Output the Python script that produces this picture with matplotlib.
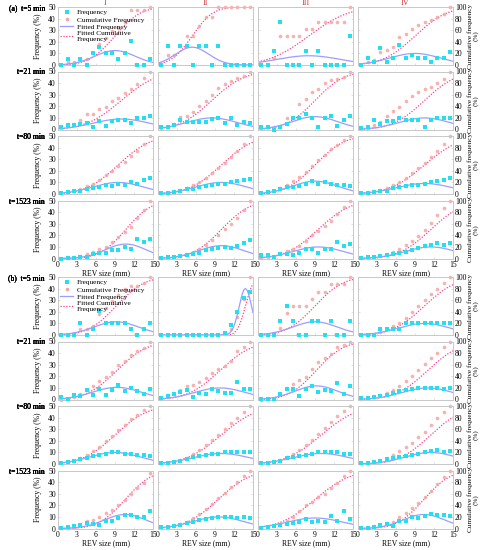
import math
import numpy as np
import matplotlib
matplotlib.use('Agg')
import matplotlib.pyplot as plt
from matplotlib.lines import Line2D

plt.rcParams['font.family'] = ['Liberation Serif', 'DejaVu Serif']

# REV size bins (mm)
rev_size = [0.5, 1.5, 2.5, 3.5, 4.5, 5.5, 6.5, 7.5, 8.5, 9.5, 10.5, 11.5, 12.5, 13.5, 14.5]
times = ['t=5 min', 't=21 min', 't=80 min', 't=1523 min']
columns = ['I', 'II', 'III', 'IV']

# frequency (%) per row (time) and column (I..IV), group (a)
freq_a = [
    [[0, 5.3, 0, 5.3, 0, 10.5, 15.8, 10.5, 10.5, 5.3, 10.5, 21.1, 0, 0, 5.3],
     [0, 16.7, 0, 16.7, 16.7, 0, 16.7, 16.7, 0, 16.7, 0, 0, 0, 0, 0],
     [0, 0, 12.5, 37.5, 0, 0, 0, 12.5, 0, 12.5, 0, 0, 0, 0, 25],
     [0, 5.7, 2.9, 14.3, 2.9, 5.7, 17.1, 5.7, 8.6, 5.7, 5.7, 2.9, 5.7, 5.7, 11.4]],
    [[2, 3.8, 3.8, 4.5, 5.5, 2.5, 7.3, 2.9, 7.3, 7.8, 8.1, 5.8, 9.6, 9.6, 11.6],
     [2, 2, 4, 8.1, 6.7, 6.7, 6.7, 6.7, 8.7, 9.6, 5.8, 9.6, 3.8, 6.4, 5.8],
     [2, 2, 0, 2, 4.4, 10, 9.6, 13, 10, 2, 10, 12, 3, 8, 12],
     [1.5, 2, 8, 4.4, 7.3, 7.3, 9.6, 8.1, 8.1, 7.8, 2, 8.1, 9.6, 9.6, 10]],
    [[1, 2, 3, 3, 4, 5, 6, 8, 7, 9, 8, 10, 9, 12, 14],
     [1, 1, 2, 3, 4, 4, 6, 7, 8, 9, 9, 10, 11, 12, 13],
     [1, 2, 3, 4, 6, 6, 7, 9, 11, 9, 10, 9, 8, 8, 7],
     [1, 1, 2, 3, 3, 5, 6, 7, 8, 8, 9, 10, 11, 12, 14]],
    [[0, 0.5, 0.6, 1, 1.5, 3.8, 4.5, 4.9, 7.2, 7.2, 9.5, 7.8, 16.5, 13.9, 16.5],
     [0.5, 1, 1, 2, 3, 4, 5, 7, 8, 9, 10, 9, 11, 13, 16],
     [2.6, 2.6, 1.7, 4, 4, 2.6, 5, 8.4, 8.4, 4.6, 8.4, 8.4, 14, 11, 12.7],
     [0.5, 1, 1, 2, 3, 4, 5, 6, 7, 9, 11, 12, 13, 12, 13]],
]
cum_a = [
    [[0, 5.3, 5.3, 10.5, 10.5, 21.1, 36.8, 47.4, 57.9, 63.2, 73.7, 94.7, 94.7, 94.7, 100],
     [0, 16.7, 16.7, 33.3, 50, 50, 66.7, 83.3, 83.3, 100, 100, 100, 100, 100, 100],
     [0, 0, 12.5, 50, 50, 50, 50, 62.5, 62.5, 75, 75, 75, 75, 75, 100],
     [0, 5.7, 8.6, 22.9, 25.7, 31.4, 48.6, 54.3, 62.9, 68.6, 74.3, 77.1, 82.9, 88.6, 100]],
    [[2, 8.7, 10, 16, 26, 27, 35, 39, 49, 55, 63, 70, 78, 88, 100],
     [1.5, 4, 9, 21, 24, 30, 41, 49, 59, 71, 78, 84, 89, 92, 99],
     [2, 4, 4, 6, 19, 20, 44, 52, 64, 70, 80, 85, 87, 90, 100],
     [1, 3, 7.6, 13, 23, 32, 39, 49, 58, 64, 70, 74, 81, 87, 99]],
    [[1, 3, 6, 9, 13, 18, 24, 32, 39, 48, 56, 66, 75, 87, 100],
     [1, 2, 4, 7, 11, 15, 21, 28, 36, 45, 54, 64, 75, 87, 100],
     [1, 3, 6, 10, 16, 22, 29, 38, 49, 58, 68, 77, 85, 93, 100],
     [1, 2, 4, 7, 10, 15, 21, 28, 36, 44, 53, 63, 74, 86, 100]],
    [[0.5, 1, 2, 4.6, 8, 12, 16, 20, 28, 37, 46, 54, 69, 84, 100],
     [0.5, 1.5, 2.5, 4.5, 7.5, 11.5, 16.5, 23.5, 31.5, 40.5, 50.5, 59.5, 70.5, 83.5, 100],
     [1.5, 3, 5, 8, 13, 16, 22, 31, 40, 48, 56, 64, 76, 88, 100],
     [0.5, 1.5, 2.5, 4.5, 7.5, 11.5, 16.5, 22.5, 29.5, 38.5, 49.5, 61.5, 74.5, 86.5, 100]],
]
# fitted normal parameters (mean, sd) of REV size, group (a)
mu_a = [[9.0, 5.4, 8.0, 9.0], [10.0, 8.5, 9.0, 10.5], [9.5, 10.0, 9.0, 10.5], [10.7, 10.0, 9.5, 11.5]]
sd_a = [[3.2, 2.6, 5.0, 4.0], [4.4, 4.0, 3.6, 4.0], [4.0, 4.0, 3.6, 4.4], [3.2, 3.6, 4.0, 4.0]]

# group (b)
freq_b = [
    [[0, 0, 0, 10.5, 0, 5.3, 21.1, 10.5, 10.5, 10.5, 10.5, 5.3, 0, 5.3, 10.5],
     [0, 0, 0, 0, 0, 0, 0, 0, 0, 0, 2, 8.5, 20, 32, 37.5],
     [0, 0, 0, 12.5, 25, 12.5, 0, 0, 12.5, 12.5, 0, 12.5, 0, 0, 12.5],
     [0, 0, 0, 5, 5, 5, 5, 10, 10, 10, 10, 10, 10, 10, 10]],
    [[2, 0.6, 3.8, 2.9, 7.8, 3.8, 8.7, 3.8, 7.8, 12.2, 7.3, 10.2, 7.3, 4.9, 8.7],
     [1, 2.9, 5, 6.7, 7.8, 2, 6, 5, 8.7, 7.6, 5.5, 6, 15, 9.3, 9.3],
     [0.6, 0.6, 0.6, 4.9, 8.7, 8.7, 2.9, 8.7, 11.6, 6.7, 8, 7, 14, 5, 12],
     [1, 1, 2, 3, 4, 6, 7, 8, 9, 10, 10, 10, 10, 9, 10]],
    [[1, 2, 3, 4, 5, 7, 8, 9, 10, 10, 9, 9, 8, 8, 7],
     [1, 1, 2, 3, 4, 6, 7, 8, 9, 9, 10, 10, 10, 10, 10],
     [1, 1, 2, 3, 5, 6, 7, 8, 9, 10, 10, 10, 10, 9, 9],
     [1, 1, 2, 3, 4, 5, 6, 7, 8, 9, 10, 11, 12, 10, 11]],
    [[0.6, 1, 2, 2.9, 4.7, 4.3, 3.4, 6.6, 6.6, 9.2, 11.5, 11.5, 10, 10, 15],
     [1, 1, 2, 3, 5, 6, 7, 8, 9, 10, 10, 10, 9, 10, 9],
     [0.5, 1, 2, 3, 4, 5, 6, 7.8, 5.7, 6.6, 5.2, 10.9, 6.6, 15, 8.6],
     [0.6, 0.6, 1, 2.9, 3.7, 2, 6.6, 6.6, 9.5, 9.2, 11, 12.9, 12, 11.5, 10.9]],
]
cum_b = [
    [[0, 0, 0, 10.5, 10.5, 15.8, 36.8, 47.4, 57.9, 68.4, 78.9, 84.2, 84.2, 89.5, 100],
     [0, 0, 0, 0, 0, 0, 0, 0, 0, 0, 2, 10.5, 30.5, 62.5, 100],
     [0, 0, 0, 12.5, 37.5, 50, 50, 50, 62.5, 75, 75, 87.5, 87.5, 87.5, 100],
     [0, 0, 0, 5, 10, 15, 20, 30, 40, 50, 60, 70, 80, 90, 100]],
    [[0, 1, 4, 9, 17, 23, 32, 38, 47, 59, 66, 76, 83, 88, 100],
     [1, 4, 10, 16, 23, 25, 31, 37, 46, 53, 58, 66, 84, 91, 100],
     [0, 0.6, 1.5, 10, 19, 26, 33, 39, 52, 64, 72, 79, 90, 94, 100],
     [1, 2, 4, 7, 11, 17, 24, 32, 41, 51, 61, 71, 81, 90, 100]],
    [[1, 3, 6, 10, 15, 22, 30, 39, 49, 59, 68, 77, 85, 93, 100],
     [1, 2, 4, 7, 11, 17, 24, 32, 41, 50, 60, 70, 80, 90, 100],
     [1, 2, 4, 7, 12, 18, 25, 33, 42, 52, 62, 72, 82, 91, 100],
     [1, 2, 4, 7, 11, 16, 22, 29, 37, 46, 56, 67, 79, 89, 100]],
    [[1, 1.5, 2.5, 6, 13, 15.5, 19, 26, 32, 40, 49, 59, 69, 78, 96],
     [1, 2, 4, 7, 12, 18, 25, 33, 42, 52, 62, 72, 81, 91, 100],
     [1, 2, 4, 8, 13, 20, 30, 40, 46, 54, 60, 70, 78, 90, 100],
     [0.6, 1.2, 2.5, 5, 9, 12, 19, 27, 35, 44, 55, 65, 76, 88, 100]],
]
mu_b = [[9.2, 13.8, 9.0, 10.5], [9.3, 9.8, 9.2, 11.0], [9.0, 10.0, 10.0, 11.5], [10.6, 9.5, 9.0, 10.4]]
sd_b = [[3.5, 1.0, 3.5, 4.0], [3.8, 4.0, 3.4, 4.0], [4.0, 4.4, 4.4, 4.0], [3.3, 4.0, 4.4, 3.3]]

C_FREQ = '#22e0f0'
C_CUM = '#f7a3a3'
C_FIT = '#9d9dff'
C_FITCUM = '#ff3d8e'
C_FRAME = '#c8c8c8'

FW, FH = 482, 550
col_left = [58, 158, 258, 358]
panel_w, panel_h = 95, 58
row_top = {'a': [7, 71.5, 136, 200.5], 'b': [277, 341.5, 406, 470.5]}

erf_v = np.vectorize(math.erf)
xs = np.linspace(0, 15, 300)

fig = plt.figure(figsize=(FW / 100, FH / 100), dpi=100)

groups = [('a', freq_a, cum_a, mu_a, sd_a), ('b', freq_b, cum_b, mu_b, sd_b)]
for g, freq, cum, mu, sd in groups:
    for r in range(4):
        for c in range(4):
            l = col_left[c] / FW
            b = 1 - (row_top[g][r] + panel_h) / FH
            ax = fig.add_axes([l, b, panel_w / FW, panel_h / FH])
            ax2 = ax.twinx()
            m, s = mu[r][c], sd[r][c]
            pdf = 100 / (s * math.sqrt(2 * math.pi)) * np.exp(-(xs - m) ** 2 / (2 * s ** 2))
            cdf = 50 * (1 + erf_v((xs - m) / (s * math.sqrt(2))))
            ax.plot(xs, pdf, color=C_FIT, lw=0.9, zorder=2)
            ax.plot(rev_size, freq[r][c], 's', color=C_FREQ, ms=2.3, mew=0, zorder=4,
                    clip_on=False)
            ax2.plot(xs, cdf, color=C_FITCUM, lw=0.9, ls=(0, (1, 1.3)), zorder=2)
            ax2.plot(rev_size, cum[r][c], 'o', color=C_CUM, ms=2.6, mew=0, alpha=0.85,
                     zorder=3, clip_on=False)
            ax.set_xlim(0, 15)
            ax.set_ylim(0, 50)
            ax2.set_ylim(0, 100)
            ax.set_xticks([0, 3, 6, 9, 12, 15])
            ax.set_yticks([0, 10, 20, 30, 40, 50])
            ax2.set_yticks([0, 20, 40, 60, 80, 100])
            ax.set_zorder(ax2.get_zorder() + 1)
            ax.patch.set_visible(False)
            for a in (ax, ax2):
                for sp in a.spines.values():
                    sp.set_color(C_FRAME)
                    sp.set_linewidth(0.6)
                a.tick_params(which='both', direction='in', length=1.5, width=0.4,
                              color=C_FRAME, labelsize=5.5, pad=1.5)
            if c != 0:
                ax.tick_params(labelleft=False)
            else:
                ax.set_ylabel('Frequency (%)', fontsize=5.5)
                ax.yaxis.set_label_coords(-0.17, 0.5)
            if c != 3:
                ax2.tick_params(labelright=False)
            else:
                ax2.set_ylabel('Cumulative frequency\n(%)', fontsize=5.2, linespacing=1.0,
                               rotation=90, va='center', ha='center')
                ax2.yaxis.set_label_coords(1.21, 0.5)
            if r != 3:
                ax.tick_params(labelbottom=False)
            else:
                ax.set_xlabel('REV size (mm)', fontsize=5.5, labelpad=0.5)
            if g == 'a' and r == 0:
                ax.set_title(columns[c], color='#d03a3a', fontsize=6, pad=0.5)
            if c == 0 and r == 0:
                handles = [
                    Line2D([], [], marker='s', ls='none', color=C_FREQ, ms=2.3, mew=0),
                    Line2D([], [], marker='o', ls='none', color=C_CUM, ms=2.6, mew=0),
                    Line2D([], [], color=C_FIT, lw=0.9),
                    Line2D([], [], color=C_FITCUM, lw=0.9, ls=(0, (1, 1.3))),
                ]
                labels = ['Frequency', 'Cumulative Frequency', 'Fitted Frequency',
                          'Fitted Cumulative\nFrequency']
                ax.legend(handles, labels, loc='upper left', frameon=False, fontsize=5.3,
                          handlelength=1.8, handletextpad=0.5, labelspacing=0.15,
                          borderaxespad=0.2, borderpad=0.1)
            label = times[r]
            if r == 0:
                label = '(' + g + ')  ' + label
            fig.text(45 / FW, 1 - (row_top[g][r] + 1) / FH, label, ha='right', va='center',
                     fontsize=5.5)

fig.savefig('out.png', dpi=100)
